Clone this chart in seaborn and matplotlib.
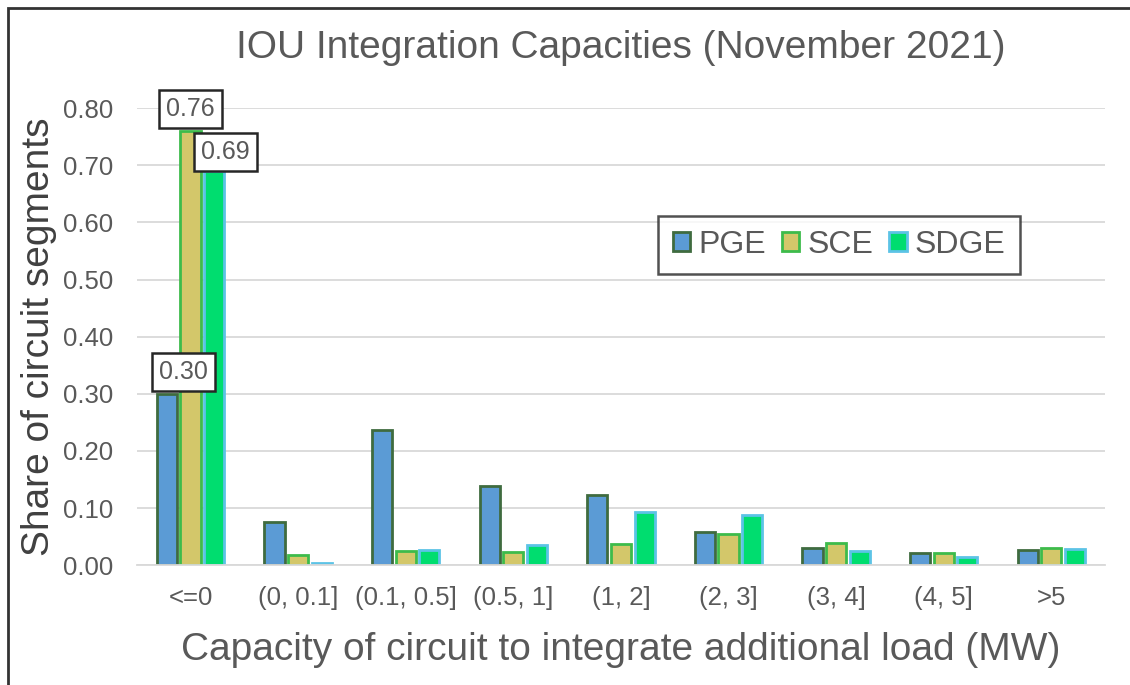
import matplotlib
matplotlib.use("Agg")
import matplotlib.pyplot as plt
import seaborn as sns
import pandas as pd
from matplotlib.patches import Rectangle

# data
categories = ["<=0", "(0, 0.1]", "(0.1, 0.5]", "(0.5, 1]", "(1, 2]",
              "(2, 3]", "(3, 4]", "(4, 5]", ">5"]
pge = [0.30, 0.075, 0.236, 0.138, 0.122, 0.058, 0.030, 0.022, 0.027]
sce = [0.76, 0.017, 0.025, 0.023, 0.037, 0.055, 0.038, 0.022, 0.030]
sdge = [0.69, 0.004, 0.026, 0.036, 0.093, 0.088, 0.025, 0.014, 0.029]
utilities = ["PGE", "SCE", "SDGE"]

face = {"PGE": "#5B9BD5", "SCE": "#D3C76A", "SDGE": "#00DD6F"}
edge = {"PGE": "#3F6B3F", "SCE": "#3DBB4B", "SDGE": "#5CC3E6"}
grey = "#595959"

df = pd.DataFrame({
    "category": categories * 3,
    "utility": ["PGE"] * 9 + ["SCE"] * 9 + ["SDGE"] * 9,
    "share": pge + sce + sdge,
})

sns.set_theme(style="white")
plt.rcParams["font.family"] = ["Liberation Sans", "DejaVu Sans"]

fig = plt.figure(figsize=(11.3, 6.85), dpi=100)
ax = fig.add_axes([0.121, 0.175, 0.857, 0.667])

sns.barplot(data=df, x="category", y="share", hue="utility", order=categories,
            hue_order=utilities, palette=face, saturation=1, width=0.66, gap=0.15,
            linewidth=2.0, ax=ax, legend=False)

for cont, u in zip(ax.containers, utilities):
    for p in cont.patches:
        p.set_edgecolor(edge[u])
        p.set_linewidth(2.0)

ax.set_xlim(-0.5, 8.5)
ax.set_ylim(0, 0.80)
ax.set_yticks([i / 10 for i in range(9)])
ax.set_yticklabels([f"{i / 10:.2f}" for i in range(9)])
ax.yaxis.grid(True, color="#D9D9D9", lw=1.3)
ax.set_axisbelow(True)
for s in ["top", "right", "left"]:
    ax.spines[s].set_visible(False)
ax.spines["bottom"].set_color("#D9D9D9")
ax.spines["bottom"].set_linewidth(1.3)
ax.tick_params(axis="both", length=0, labelsize=18.5, colors=grey)
ax.tick_params(axis="y", pad=17)
ax.tick_params(axis="x", pad=15)

ax.set_xlabel("Capacity of circuit to integrate additional load (MW)",
              fontsize=28, color=grey, labelpad=16)
ax.set_ylabel("Share of circuit segments", fontsize=28, color="#404040", labelpad=4)
ax.set_title("IOU Integration Capacities (November 2021)", fontsize=28,
             color=grey, pad=36)

# value boxes on the first category
box = dict(boxstyle="square,pad=0.28", fc="white", ec="#262626", lw=1.8)
offsets = {"PGE": (12, 7), "SCE": (0, 7), "SDGE": (8, 5)}
for cont, u in zip(ax.containers, utilities):
    p = cont.patches[0]
    ax.annotate(f"{p.get_height():.2f}", (p.get_x() + p.get_width() / 2, p.get_height()),
                xytext=offsets[u], textcoords="offset points", ha="center", va="bottom",
                fontsize=18, color=grey, bbox=box, annotation_clip=False)

handles = [cont.patches[0] for cont in ax.containers]
leg = ax.legend(handles, utilities, ncol=3, loc="upper left",
                bbox_to_anchor=(0.522, 0.80), fontsize=23, frameon=True,
                handlelength=0.55, handleheight=0.55, handletextpad=0.25,
                columnspacing=0.5, borderpad=0.45, fancybox=False)
leg.get_frame().set_edgecolor("#262626")
leg.get_frame().set_linewidth(1.8)
for t in leg.get_texts():
    t.set_color(grey)

fig.patches.append(Rectangle((0.007, -0.02), 1.2, 1.008, transform=fig.transFigure,
                             fill=False, ec="#333333", lw=2.0))

fig.savefig("out.png", dpi=100)
